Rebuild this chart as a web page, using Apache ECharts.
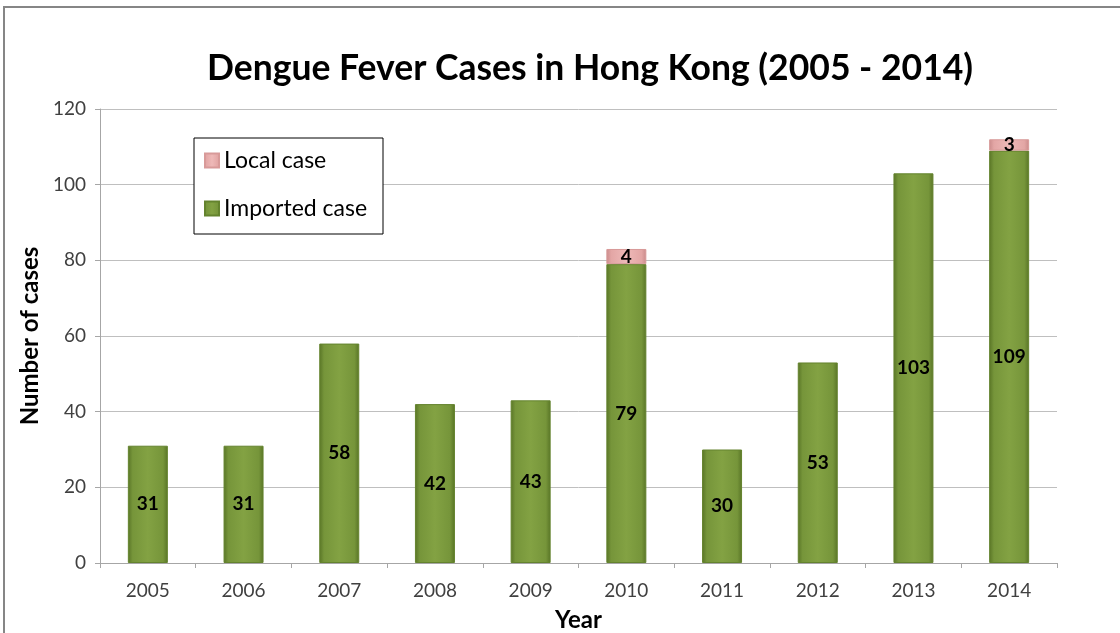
<!DOCTYPE html>
<html>
<head>
<meta charset="UTF-8">
<title>Dengue Fever Cases in Hong Kong</title>
<script src="https://cdn.jsdelivr.net/npm/echarts@6/dist/echarts.min.js"></script>
</head>
<body style="margin:0;background:#fff;">
<div id="chart" style="width:1120px;height:633px;"></div>
<script type="text/javascript">
    // 数据
    var years = ['2005', '2006', '2007', '2008', '2009', '2010', '2011', '2012', '2013', '2014'];
    var imported = [31, 31, 58, 42, 43, 79, 30, 53, 103, 109];
    var local = [null, null, null, null, null, 4, null, null, null, 3];
    var yTicks = [0, 20, 40, 60, 80, 100, 120];

    var font = 'Lato, "Open Sans", sans-serif';

    function bevel(dark, mid, light) {
        return new echarts.graphic.LinearGradient(0, 0, 1, 0, [
            {offset: 0, color: dark},
            {offset: 0.12, color: mid},
            {offset: 0.5, color: light},
            {offset: 0.88, color: mid},
            {offset: 1, color: dark}
        ]);
    }

    var chart = echarts.init(document.getElementById('chart'));

    var option = {
        animation: false,
        textStyle: {fontFamily: font},
        title: {
            text: 'Dengue Fever Cases in Hong Kong (2005 - 2014)',
            left: 585,
            top: 46,
            textAlign: 'center',
            textStyle: {fontSize: 35.5, fontWeight: 'bold', color: '#000', fontFamily: font}
        },
        graphic: [
            {type: 'rect', shape: {x: 4, y: 7, width: 1200, height: 700},
             style: {fill: 'none', stroke: '#868686', lineWidth: 2}, silent: true},
            {type: 'rect', shape: {x: 194, y: 138, width: 189, height: 96},
             style: {fill: '#fff', stroke: '#000', lineWidth: 1}, z: 5}
        ],
        legend: {
            data: ['Local case', 'Imported case'],
            orient: 'vertical',
            left: 199,
            top: 144,
            itemGap: 25,
            itemWidth: 14,
            itemHeight: 14,
            icon: 'rect',
            z: 10,
            textStyle: {fontSize: 23, color: '#000', fontFamily: font}
        },
        grid: {left: 100, right: 63, top: 109, bottom: 70, outerBoundsMode: 'none', containLabel: false},
        xAxis: {
            type: 'category',
            data: years,
            name: 'Year',
            nameLocation: 'middle',
            nameGap: 45,
            nameTextStyle: {fontSize: 24, fontWeight: 'bold', color: '#000'},
            axisLine: {lineStyle: {color: '#a6a6a6'}},
            axisTick: {show: true, length: 5, lineStyle: {color: '#a6a6a6'}},
            axisLabel: {fontSize: 19, color: '#404040', margin: 18}
        },
        yAxis: {
            type: 'value',
            min: yTicks[0],
            max: yTicks[yTicks.length - 1],
            interval: 20,
            name: 'Number of cases',
            nameLocation: 'middle',
            nameGap: 58,
            nameTextStyle: {fontSize: 24, fontWeight: 'bold', color: '#000'},
            axisLine: {show: true, lineStyle: {color: '#a6a6a6'}},
            axisTick: {show: true, length: 5, lineStyle: {color: '#a6a6a6'}},
            axisLabel: {fontSize: 19, color: '#404040', margin: 14},
            splitLine: {lineStyle: {color: '#bfbfbf'}}
        },
        series: [
            {
                name: 'Imported case',
                type: 'bar',
                stack: 'cases',
                barWidth: 40,
                data: imported,
                itemStyle: {color: bevel('#587426', '#76953a', '#83a243'), borderColor: '#64832e', borderWidth: 1},
                label: {show: true, position: 'inside', fontSize: 19, fontWeight: 'bold', color: '#000'}
            },
            {
                name: 'Local case',
                type: 'bar',
                stack: 'cases',
                barWidth: 40,
                data: local,
                itemStyle: {color: bevel('#c98a8a', '#e3a6a5', '#eeb9b8'), borderColor: '#d89a99', borderWidth: 1},
                label: {show: true, position: 'inside', fontSize: 19, fontWeight: 'bold', color: '#000'}
            }
        ]
    };
    chart.setOption(option);
</script>
</body>
</html>
